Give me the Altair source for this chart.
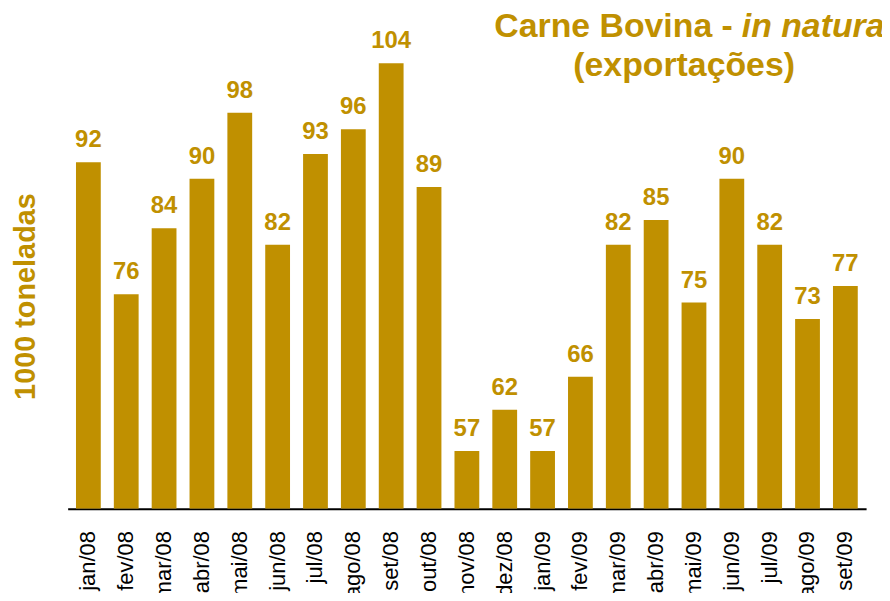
import altair as alt
import pandas as pd

months = ["jan/08", "fev/08", "mar/08", "abr/08", "mai/08", "jun/08", "jul/08",
          "ago/08", "set/08", "out/08", "nov/08", "dez/08", "jan/09", "fev/09",
          "mar/09", "abr/09", "mai/09", "jun/09", "jul/09", "ago/09", "set/09"]
values = [92, 76, 84, 90, 98, 82, 93, 96, 104, 89, 57, 62, 57, 66,
          82, 85, 75, 90, 82, 73, 77]

title_line1a = "Carne Bovina -"
title_line1b = "in natura"
title_line2 = "(exportações)"
y_title = "1000 toneladas"

GOLD = "#C09000"
FONT = "Liberation Sans"

df = pd.DataFrame({"mes": months, "valor": values})

x = alt.X("mes:N", sort=months,
          scale=alt.Scale(paddingInner=0.345, paddingOuter=0.22),
          axis=alt.Axis(title=None, labelAngle=-90, labelFontSize=22,
                        labelFont=FONT, labelColor="black", labelPadding=22,
                        ticks=False, domainColor="black", domainWidth=2,
                        grid=False))
y = alt.Y("valor:Q", scale=alt.Scale(domain=[50, 110], zero=False, nice=False, clamp=True),
          axis=alt.Axis(title=y_title, labels=False, ticks=False, domain=False,
                        grid=False, titleFont=FONT, titleFontSize=29,
                        titleFontWeight="bold", titleColor=GOLD,
                        titleAngle=-90, titleAlign="center",
                        titleBaseline="middle", titleX=-42, titleY=284))

base = alt.Chart(df)
bars = base.mark_bar(color=GOLD, clip=True).encode(x=x, y=y)
labels = base.mark_text(color=GOLD, font=FONT, fontSize=24, fontWeight="bold",
                        baseline="alphabetic", dy=-15).encode(
    x=alt.X("mes:N", sort=months), y="valor:Q", text="valor:Q")

t_df = pd.DataFrame({"a": [title_line1a], "b": [title_line1b], "c": [title_line2]})
t1 = alt.Chart(t_df).mark_text(color=GOLD, font=FONT, fontSize=34, fontWeight="bold",
                               align="right", baseline="alphabetic").encode(
    x=alt.value(669), y=alt.value(23), text="a:N")
t2 = alt.Chart(t_df).mark_text(color=GOLD, font=FONT, fontSize=34, fontWeight="bold",
                               fontStyle="italic", align="left",
                               baseline="alphabetic").encode(
    x=alt.value(678), y=alt.value(23), text="b:N")
t3 = alt.Chart(t_df).mark_text(color=GOLD, font=FONT, fontSize=34, fontWeight="bold",
                               align="center", baseline="alphabetic").encode(
    x=alt.value(620), y=alt.value(63), text="c:N")

chart = alt.layer(bars, labels, t1, t2, t3).properties(
    width=803, height=498,
    background="white",
    autosize=alt.AutoSizeParams(type="none"),
    padding={"left": 60, "top": 4, "right": 16, "bottom": 83},
).configure_view(strokeWidth=0, stroke="transparent")

chart.save("out.html", embed_options={"renderer": "svg", "actions": False})
